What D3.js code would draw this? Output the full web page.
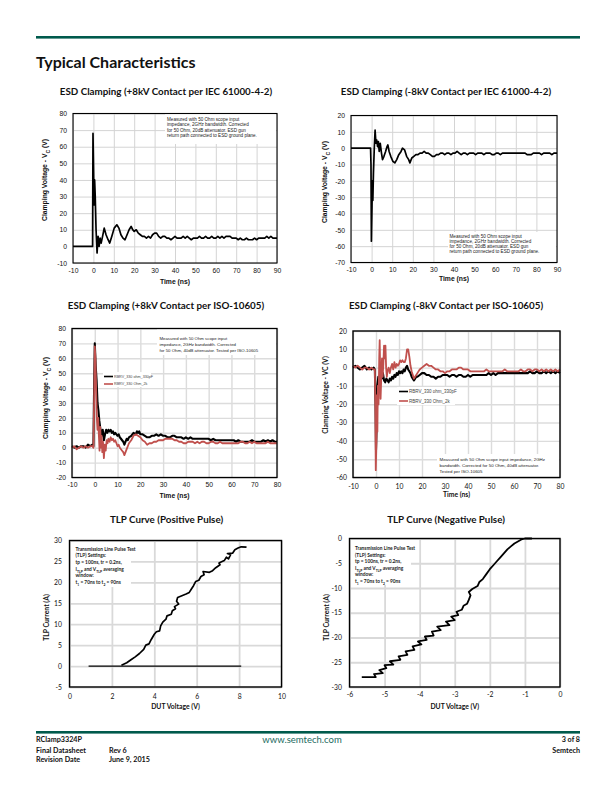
<!DOCTYPE html>
<html>
<head>
<meta charset="utf-8">
<script src="https://cdn.jsdelivr.net/npm/d3@7"></script>
<style>
  body { margin: 0; background: #fff; }
  svg { display: block; }
</style>
</head>
<body>
<svg id="page" width="612" height="792"></svg>
<script>
/* ---- data ---- */

/* ESD clamping, +8kV contact per IEC 61000-4-2 : [time ns, volts] */
const iecPos = [[-10,0],[-0.4,0],[-0.2,68],[0.1,45],[0.3,25],[0.6,40],[0.9,30],[1.3,10],[1.8,-4],[2.3,6],[2.8,0],[3.3,5],[3.8,2],[4.5,6],[5.3,11],[6.2,7],[7.2,4],[8,2],[9,6],[10.2,11],[11.5,13],[12.5,11],[13.5,7],[14.5,5],[15.5,4],[16.5,7],[17.5,10],[18.5,12],[19.3,10],[20,9],[21,10],[22,8],[23,7],[24,6],[25,6],[26,5],[27,6],[28,5],[29,7],[30,8],[31,8],[32,6],[33,5],[34,6],[35,6],[36,5],[37,5],[38,4],[39,5],[40,6],[41,5],[42,5],[43,5],[44,6],[45,5],[46,6],[47,5],[48,4],[49,5],[50,5],[51,5],[52,6],[53,5],[54,5],[55,6],[56,5],[57,5],[58,6],[59,5],[60,5],[61,6],[62,5],[63,6],[64,5],[65,6],[66,6],[67,6],[68,5],[69,5],[70,5],[71,4],[72,5],[73,4],[74,4],[75,5],[76,4],[77,4],[78,4],[79,5],[80,4],[81,5],[82,5],[83,5],[84,5],[85,6],[86,5],[87,6],[88,5],[89,5],[90,5]]

/* ESD clamping, -8kV contact per IEC 61000-4-2 */
const iecNeg = [[-10,0],[-0.5,0],[-0.3,-10],[-0.1,-57],[0.2,-35],[0.4,-20],[0.6,-32],[0.9,-15],[1.3,0],[1.7,11],[2.1,3],[2.5,5],[2.9,1],[3.3,4],[3.7,-2],[4.2,3],[4.8,-3],[5.3,-7],[6,-5],[6.8,-2],[7.5,1],[7.9,2],[8.5,-2],[9.3,-5],[10.3,-8],[11.3,-9],[12.2,-7],[13.2,-4],[14.3,-2],[15,0],[16,-1],[17,-5],[18,-7],[18.6,-9],[19.5,-6],[20.5,-5],[21.5,-4],[22.5,-4],[23.5,-3],[24.5,-3],[25.5,-2],[26.5,-3],[27.5,-3],[28.5,-4],[29.5,-5],[30.5,-5],[31.5,-4],[32.5,-4],[33.5,-3],[34.5,-3],[35.5,-4],[36.5,-3],[37.5,-3],[38.5,-4],[39.5,-3],[40.5,-3],[41.5,-2],[42.5,-3],[43.5,-4],[44.5,-3],[45.5,-3],[46.5,-4],[47.5,-3],[48.5,-3],[49.5,-3],[50.5,-4],[51.5,-3],[52.5,-3],[53.5,-3],[54.5,-4],[55.5,-3],[56.5,-3],[57.5,-3],[58.5,-4],[59.5,-4],[60.5,-3],[61.5,-3],[62.5,-4],[63.5,-3],[64.5,-3],[65.5,-3],[66.5,-3],[67.5,-3],[68.5,-3],[69.5,-3],[70.5,-3],[71.5,-3],[72.5,-3],[73.5,-3],[74.5,-3],[75.5,-4],[76.5,-4],[77.5,-4],[78.5,-3],[79.5,-3],[80.5,-3],[81.5,-3],[82.5,-4],[83.5,-3],[84.5,-3],[85.5,-3],[86.5,-3],[87.5,-4],[88.5,-3],[89.5,-3],[90,-3]]

/* ESD clamping, +8kV contact per ISO-10605, two networks */
const isoPos330pF = [[-10,1],[-9,0],[-8,1],[-7,0],[-6,1],[-5,1],[-4,0],[-3,2],[-2,1],[-1,2],[-0.6,1],[-0.3,40],[0,70],[0.4,55],[0.8,45],[1.2,30],[1.6,25],[2,18],[2.5,12],[3,8],[3.5,12],[4,5],[4.5,9],[5,12],[5.5,10],[6,12],[6.5,11],[7,12],[7.5,10],[8,11],[8.5,9],[9,10],[9.5,9],[10,8],[10.5,9],[11,7],[11.5,6],[12,5],[12.5,4],[13,2],[13.5,4],[14,6],[14.5,5],[15,7],[16,8],[17,10],[18,9],[18.5,11],[19,10],[19.5,11],[20,9],[21,9],[22,8],[23,7],[24,7],[25,8],[26,8],[27,9],[28,8],[29,9],[30,8],[31,8],[32,7],[33,7],[34,8],[35,8],[36,7],[37,7],[38,7],[39,6],[40,7],[41,6],[42,7],[43,6],[44,6],[45,6],[46,6],[47,6],[48,6],[49,6],[50,6],[51,5],[52,6],[53,5],[54,5],[55,5],[56,5],[57,5],[58,5],[59,5],[60,5],[61,5],[62,4],[63,5],[64,4],[65,4],[66,4],[67,4],[68,4],[69,5],[70,4],[71,4],[72,4],[73,4],[74,5],[75,4],[76,5],[77,4],[78,5],[79,4],[80,4]]
const isoPos2k = [[-10,0],[-9,1],[-8,-1],[-7,0],[-6,1],[-5,0],[-4,1],[-3,0],[-2,1],[-1,1],[-0.6,0],[-0.3,30],[0,68],[0.3,60],[0.6,40],[0.9,20],[1.2,12],[1.5,20],[1.8,8],[2.1,-2],[2.4,14],[2.7,0],[3,8],[3.3,-3],[3.6,4],[4,-7],[4.4,2],[4.8,-2],[5.2,5],[5.6,3],[6,6],[6.5,4],[7,7],[7.5,5],[8,6],[8.5,4],[9,5],[9.5,3],[10,1],[10.5,2],[11,0],[11.5,-1],[12,-2],[12.5,-3],[13,-5],[13.5,-3],[14,-1],[14.5,1],[15,3],[16,5],[17,8],[18,9],[19,8],[20,7],[21,5],[22,4],[23,2],[24,3],[25,3],[26,4],[27,4],[28,5],[29,5],[30,5],[31,6],[32,6],[33,6],[34,6],[35,5],[36,5],[37,4],[38,4],[39,3],[40,3],[41,4],[42,4],[43,4],[44,3],[45,4],[46,3],[47,4],[48,4],[49,3],[50,3],[51,4],[52,4],[53,3],[54,3],[55,4],[56,3],[57,3],[58,3],[59,3],[60,3],[61,3],[62,3],[63,3],[64,4],[65,4],[66,3],[67,3],[68,4],[69,3],[70,4],[71,3],[72,3],[73,3],[74,3],[75,3],[76,4],[77,3],[78,3],[79,3],[80,3]]

/* ESD clamping, -8kV contact per ISO-10605 */
const isoNeg330pF = [[-10,0],[-9,1],[-8,0],[-7,-1],[-6,0],[-5,1],[-4,-1],[-3,0],[-2,-1],[-1,0],[-0.5,-1],[-0.2,-20],[0,-45],[0.3,-30],[0.6,-10],[1,-5],[1.5,-8],[2,-4],[2.5,-6],[3,-3],[3.5,-7],[4,-8],[4.5,-6],[5,-7],[5.5,-8],[6,-6],[6.5,-7],[7,-5],[7.5,-6],[8,-4],[8.5,-5],[9,-3],[9.5,-4],[10,-2],[10.5,-3],[11,-2],[11.5,-3],[12,-1],[12.5,-2],[13,0],[13.5,1],[14,-1],[14.5,-2],[15,-3],[15.5,-5],[16,-6],[16.5,-7],[17,-6],[17.5,-5],[18,-5],[19,-4],[20,-3],[21,-3],[22,-4],[23,-4],[24,-5],[25,-5],[26,-6],[27,-5],[28,-5],[29,-4],[30,-4],[31,-4],[32,-5],[33,-4],[34,-4],[35,-5],[36,-4],[37,-4],[38,-5],[39,-5],[40,-4],[41,-5],[42,-4],[43,-4],[44,-4],[45,-4],[46,-4],[47,-4],[48,-4],[49,-3],[50,-4],[51,-3],[52,-4],[53,-3],[54,-3],[55,-3],[56,-3],[57,-3],[58,-3],[59,-3],[60,-3],[61,-3],[62,-3],[63,-3],[64,-3],[65,-3],[66,-3],[67,-2],[68,-3],[69,-3],[70,-2],[71,-3],[72,-3],[73,-2],[74,-3],[75,-2],[76,-3],[77,-2],[78,-3],[79,-2],[80,-3]]
const isoNeg2k = [[-10,1],[-9,0],[-8,1],[-7,0],[-6,-1],[-5,0],[-4,0],[-3,-1],[-2,0],[-1,-1],[-0.5,-1],[-0.3,-20],[-0.1,-56],[0.2,-40],[0.4,-15],[0.6,-35],[0.8,-10],[1.1,-20],[1.4,5],[1.6,15],[1.8,0],[2,-17],[2.3,-5],[2.6,5],[2.9,-5],[3.2,2],[3.5,12],[3.8,5],[4.1,12],[4.4,0],[4.7,-5],[5,-2],[5.5,0],[6,-3],[6.5,0],[7,2],[7.5,-1],[8,3],[8.5,0],[9,2],[9.5,1],[10,2],[10.5,4],[11,3],[11.5,4],[12,3],[12.5,3],[13,5],[13.5,10],[14,10],[14.5,6],[15,1],[15.5,-2],[16,-4],[16.5,-6],[17,-5],[17.5,-4],[18,-3],[19,-1],[20,0],[21,1],[22,2],[23,1],[24,1],[25,0],[26,-1],[27,-1],[28,-2],[29,-2],[30,-3],[31,-2],[32,-2],[33,-1],[34,-1],[35,-1],[36,0],[37,0],[38,-1],[39,-1],[40,-1],[41,-2],[42,-2],[43,-2],[44,-2],[45,-2],[46,-2],[47,-2],[48,-1],[49,-2],[50,-2],[51,-2],[52,-2],[53,-2],[54,-2],[55,-2],[56,-1],[57,-2],[58,-2],[59,-2],[60,-2],[61,-2],[62,-2],[63,-1],[64,-2],[65,-2],[66,-1],[67,-1],[68,-2],[69,-1],[70,-1],[71,-2],[72,-1],[73,-2],[74,-1],[75,-2],[76,-1],[77,-2],[78,-1],[79,-2],[80,-1]]

/* TLP curves : [DUT volts, TLP amps] */
const tlpPosBase = [[0.9,0],[8.1,0]]
const tlpPos = [[2.45,0.2],[2.7,0.8],[2.9,1.5],[3.1,2.2],[3.3,3],[3.5,4],[3.6,5],[3.75,5.3],[3.85,6.3],[4.0,7.6],[4.1,8.2],[4.25,8.4],[4.3,9.6],[4.4,10.5],[4.55,11.2],[4.6,12],[4.8,12.4],[4.85,13.2],[5.0,13.7],[4.95,14.2],[5.15,14.8],[5.05,15.5],[5.1,16.4],[5.3,16.8],[5.5,17.2],[5.65,17.6],[5.75,18.4],[5.85,19.2],[5.95,20.2],[6.1,20.5],[6.2,21.4],[6.35,21.8],[6.3,22.6],[6.6,22.4],[6.75,22.8],[6.9,23.5],[7.1,24.2],[7.05,24.6],[7.3,25.2],[7.4,26],[7.5,25.6],[7.6,26.6],[7.45,26.9],[7.7,27],[7.8,27.8],[7.95,28.2],[8.1,28.5],[8.35,28.4]]
const tlpNeg = [[-5.65,-28],[-5.25,-28],[-5.3,-27.4],[-5.05,-27.2],[-5.15,-26.6],[-4.95,-26.2],[-5.0,-25.6],[-4.75,-25.5],[-4.85,-24.8],[-4.55,-24.5],[-4.6,-23.8],[-4.35,-23.5],[-4.4,-22.8],[-4.15,-22.5],[-4.2,-21.8],[-3.95,-21.4],[-4.05,-20.8],[-3.8,-20.5],[-3.85,-19.8],[-3.6,-19.6],[-3.65,-18.8],[-3.4,-18.5],[-3.5,-17.8],[-3.15,-17.5],[-3.25,-16.8],[-3.0,-16.5],[-3.1,-15.8],[-2.9,-15.5],[-2.95,-14.8],[-2.8,-14.4],[-2.75,-13.6],[-2.65,-13.2],[-2.6,-12.4],[-2.55,-11.5],[-2.6,-10.8],[-2.5,-10.2],[-2.35,-9.6],[-2.3,-8.8],[-2.2,-8.2],[-2.1,-7.2],[-2.0,-6.2],[-1.9,-5.4],[-1.8,-4.6],[-1.7,-3.8],[-1.6,-3.0],[-1.5,-2.2],[-1.4,-1.6],[-1.3,-1.0],[-1.2,-0.6],[-1.1,-0.2],[-1.0,0],[-0.8,0]]

/* tick values */
const ticksTime90 = [-10,0,10,20,30,40,50,60,70,80,90]
const ticksTime80 = [-10,0,10,20,30,40,50,60,70,80]
const ticksIecPosV = [-10,0,10,20,30,40,50,60,70,80]
const ticksIecNegV = [-70,-60,-50,-40,-30,-20,-10,0,10,20]
const ticksIsoPosV = [-20,-10,0,10,20,30,40,50,60,70,80]
const ticksIsoNegV = [-60,-50,-40,-30,-20,-10,0,10,20]
const ticksTlpPosV = [0,2,4,6,8,10]
const ticksTlpPosI = [-5,0,5,10,15,20,25,30]
const ticksTlpNegV = [-6,-5,-4,-3,-2,-1,0]
const ticksTlpNegI = [-30,-25,-20,-15,-10,-5,0]

/* texts */
const legendNames = ["RBRV_330 ohm_330pF", "RBRV_330 Ohm_2k"]
const noteIec = ["Measured with 50 Ohm scope input", "impedance, 2GHz bandwidth. Corrected", "for 50 Ohm, 20dB attenuator. ESD gun", "return path connected to ESD ground plane."]
const noteIsoPos = ["Measured with 50 Ohm scope input", "impedance, 2GHz bandwidth. Corrected", "for 50 Ohm, 40dB attenuator. Tested per ISO-10605"]
const noteIsoNeg = ["Measured with 50 Ohm scope input impedance, 2GHz", "bandwidth. Corrected for 50 Ohm, 40dB attenuator.", "Tested per ISO-10605"]

/* ---- page ---- */
const teal = "#005a4c",
      red = "#c0504d",
      arial = "'Liberation Sans', Arial, sans-serif",
      lato = "Lato, 'Open Sans', sans-serif"

const svg = d3.select("#page")

/* header rule and heading */
svg.append("rect").attr("x", 36).attr("y", 36).attr("width", 544).attr("height", 2.6).attr("fill", teal)
svg.append("text").attr("x", 36).attr("y", 68)
  .attr("font-family", lato).attr("font-weight", "bold").attr("font-size", 16).attr("fill", "#111")
  .text("Typical Characteristics")

/* draws one chart box with grid, traces, labels */
function drawPanel (p) {
  const x = d3.scaleLinear().domain(p.xDomain).range([p.left, p.right]),
        y = d3.scaleLinear().domain(p.yDomain).range([p.bottom, p.top]),
        h = p.bottom - p.top,
        w = p.right - p.left
  const g = svg.append("g")

  /* grid */
  g.append("g").attr("transform", "translate(0," + p.bottom + ")")
    .call(d3.axisBottom(x).tickValues(p.xTicks).tickSize(-h).tickFormat(""))
    .call(a => a.select(".domain").remove())
    .selectAll("line").attr("stroke", p.grid).attr("stroke-width", p.gridWidth)
  g.append("g").attr("transform", "translate(" + p.left + ",0)")
    .call(d3.axisLeft(y).tickValues(p.yTicks).tickSize(-w).tickFormat(""))
    .call(a => a.select(".domain").remove())
    .selectAll("line").attr("stroke", p.grid).attr("stroke-width", p.gridWidth)

  /* white boxes behind notes */
  ;(p.boxes || []).forEach(b => {
    g.append("rect").attr("x", b[0]).attr("y", b[1]).attr("width", b[2]).attr("height", b[3]).attr("fill", "#fff")
  })

  /* traces */
  const line = d3.line().x(d => x(d[0])).y(d => y(d[1])).curve(d3.curveLinear)
  p.series.forEach(s => {
    g.append("path").datum(s.data)
      .attr("d", line)
      .attr("fill", "none")
      .attr("stroke", s.color)
      .attr("stroke-width", s.width)
      .attr("stroke-linejoin", "round")
  })

  /* border */
  g.append("rect").attr("x", p.left).attr("y", p.top).attr("width", w).attr("height", h)
    .attr("fill", "none").attr("stroke", "#000").attr("stroke-width", p.border)

  /* tick labels */
  const xa = g.append("g").attr("transform", "translate(0," + p.bottom + ")")
    .call(d3.axisBottom(x).tickValues(p.xTicks).tickSize(0).tickFormat(d => String(d)))
  xa.select(".domain").remove()
  xa.selectAll("text").attr("y", p.xLabelDy).attr("dy", null)
    .attr("font-family", p.tickFont).attr("font-size", p.tickSize).attr("fill", "#111")

  const ya = g.append("g").attr("transform", "translate(" + p.left + ",0)")
    .call(d3.axisLeft(y).tickValues(p.yTicks).tickSize(0).tickPadding(p.yLabelPad).tickFormat(d => String(d)))
  ya.select(".domain").remove()
  ya.selectAll("text").attr("font-family", p.tickFont).attr("font-size", p.tickSize).attr("fill", "#111")

  /* chart title */
  g.append("text").attr("x", p.titleX).attr("y", p.titleY).attr("text-anchor", "middle")
    .attr("font-family", lato).attr("font-weight", "bold").attr("font-size", 9.8).attr("fill", "#111")
    .text(p.title)

  /* axis titles */
  g.append("text").attr("x", (p.left + p.right) / 2).attr("y", p.xTitleY).attr("text-anchor", "middle")
    .attr("font-family", p.axisFont).attr("font-weight", "bold").attr("font-size", 6.8).attr("fill", "#111")
    .text(p.xTitle)

  const yt = g.append("text")
    .attr("transform", "translate(" + p.yTitleX + "," + p.yTitleMid + ") rotate(-90)")
    .attr("text-anchor", "middle")
    .attr("font-family", p.axisFont).attr("font-weight", "bold").attr("font-size", 6.8).attr("fill", "#111")
  p.yTitle.forEach(part => {
    const t = yt.append("tspan").text(part.t)
    if (part.sub) t.attr("baseline-shift", "sub").attr("font-size", 5)
  })

  /* note */
  if (p.note) {
    p.note.lines.forEach((l, i) => {
      const t = g.append("text").attr("x", p.note.x).attr("y", p.note.y + i * p.note.step)
        .attr("font-family", p.note.font).attr("font-size", p.note.size).attr("fill", "#222")
        .attr("font-weight", p.note.bold ? "bold" : "normal")
      l.forEach(part => {
        const s = t.append("tspan").text(part.t)
        if (part.sub) s.attr("baseline-shift", "sub").attr("font-size", p.note.size * 0.7)
      })
    })
  }

  /* legend */
  if (p.legend) {
    const L = p.legend
    p.series.forEach((s, i) => {
      g.append("line").attr("x1", L.x).attr("x2", L.x + L.len)
        .attr("y1", L.y + i * L.step).attr("y2", L.y + i * L.step)
        .attr("stroke", s.color).attr("stroke-width", 1.6)
      g.append("text").attr("x", L.x + L.len + 1).attr("y", L.y + i * L.step + L.size * 0.35)
        .attr("font-family", arial).attr("font-size", L.size).attr("fill", "#444")
        .text(legendNames[i])
    })
  }
}

const toLines = arr => arr.map(s => [{ t: s }])

drawPanel({
  title: "ESD Clamping (+8kV Contact per IEC 61000-4-2)", titleX: 166, titleY: 95,
  left: 73, right: 277, top: 113.5, bottom: 263,
  xDomain: [-10, 90], yDomain: [-10, 80], xTicks: ticksTime90, yTicks: ticksIecPosV,
  grid: "#d4d4d4", gridWidth: 1, border: 1.1,
  tickFont: arial, tickSize: 6.8, xLabelDy: 9.8, yLabelPad: 6,
  axisFont: arial, xTitle: "Time (ns)", xTitleY: 283.5, yTitleX: 47, yTitleMid: 180,
  yTitle: [{ t: "Clamping Voltage - V" }, { t: "C", sub: true }, { t: " (V)" }],
  boxes: [[165, 114, 111, 30]],
  series: [{ data: iecPos, color: "#000", width: 1.7 }],
  note: { x: 167, y: 121.2, step: 5.2, size: 4.6, font: arial, lines: toLines(noteIec) }
})

drawPanel({
  title: "ESD Clamping (-8kV Contact per IEC 61000-4-2)", titleX: 446, titleY: 95,
  left: 351, right: 557, top: 115.5, bottom: 262.5,
  xDomain: [-10, 90], yDomain: [-70, 20], xTicks: ticksTime90, yTicks: ticksIecNegV,
  grid: "#d4d4d4", gridWidth: 1, border: 1.1,
  tickFont: arial, tickSize: 6.8, xLabelDy: 9.5, yLabelPad: 6,
  axisFont: arial, xTitle: "Time (ns)", xTitleY: 281, yTitleX: 327, yTitleMid: 182,
  yTitle: [{ t: "Clamping Voltage - V" }, { t: "C", sub: true }, { t: " (V)" }],
  boxes: [[448, 232, 108, 30]],
  series: [{ data: iecNeg, color: "#000", width: 1.7 }],
  note: { x: 449.5, y: 237.5, step: 5.1, size: 4.6, font: arial, lines: toLines(noteIec) }
})

drawPanel({
  title: "ESD Clamping (+8kV Contact per ISO-10605)", titleX: 166, titleY: 309,
  left: 72, right: 277, top: 328.5, bottom: 477.5,
  xDomain: [-10, 80], yDomain: [-20, 80], xTicks: ticksTime80, yTicks: ticksIsoPosV,
  grid: "#dcdcdc", gridWidth: 1.4, border: 1.3,
  tickFont: arial, tickSize: 6.8, xLabelDy: 9.5, yLabelPad: 6,
  axisFont: arial, xTitle: "Time (ns)", xTitleY: 497.5, yTitleX: 48, yTitleMid: 398,
  yTitle: [{ t: "Clamping Voltage - V" }, { t: "C", sub: true }, { t: " (V)" }],
  boxes: [[157, 329, 119, 26], [103, 372, 48, 15]],
  series: [{ data: isoPos330pF, color: "#000", width: 2.1 }, { data: isoPos2k, color: red, width: 1.8 }],
  note: { x: 159.5, y: 339.5, step: 6, size: 4.3, font: arial, lines: toLines(noteIsoPos) },
  legend: { x: 104, y: 376.5, len: 9, step: 7.5, size: 3.7 }
})

drawPanel({
  title: "ESD Clamping (-8kV Contact per ISO-10605)", titleX: 446, titleY: 309,
  left: 353, right: 560, top: 331, bottom: 477.5,
  xDomain: [-10, 80], yDomain: [-60, 20], xTicks: ticksTime80, yTicks: ticksIsoNegV,
  grid: "#dcdcdc", gridWidth: 1.4, border: 1.4,
  tickFont: lato, tickSize: 6.8, xLabelDy: 11.5, yLabelPad: 6,
  axisFont: lato, xTitle: "Time (ns)", xTitleY: 497, yTitleX: 328, yTitleMid: 395,
  yTitle: [{ t: "Clamping Voltage - VC (V)" }],
  boxes: [[437, 454, 122, 23], [397, 387, 58, 18]],
  series: [{ data: isoNeg330pF, color: "#000", width: 2.1 }, { data: isoNeg2k, color: red, width: 1.8 }],
  note: { x: 439.5, y: 461, step: 5.8, size: 4.4, font: arial, lines: toLines(noteIsoNeg) },
  legend: { x: 399, y: 391.5, len: 9, step: 9.5, size: 4.5 }
})

const tlpNote = [
  [{ t: "Transmission Line Pulse Test" }],
  [{ t: "(TLP) Settings:" }],
  [{ t: "tp = 100ns, tr = 0.2ns," }],
  [{ t: "I" }, { t: "TLP", sub: true }, { t: " and V" }, { t: "TLP", sub: true }, { t: " averaging" }],
  [{ t: "window:" }],
  [{ t: "t" }, { t: "1", sub: true }, { t: " = 70ns to t" }, { t: "2", sub: true }, { t: " = 90ns" }]
]

drawPanel({
  title: "TLP Curve (Positive Pulse)", titleX: 166.5, titleY: 522.5,
  left: 69.5, right: 281.5, top: 540.5, bottom: 687,
  xDomain: [0, 10], yDomain: [-5, 30], xTicks: ticksTlpPosV, yTicks: ticksTlpPosI,
  grid: "#d9d9d9", gridWidth: 1.8, border: 1.4,
  tickFont: lato, tickSize: 6.8, xLabelDy: 12, yLabelPad: 7.5,
  axisFont: lato, xTitle: "DUT Voltage (V)", xTitleY: 709, yTitleX: 49, yTitleMid: 617.5,
  yTitle: [{ t: "TLP Current (A)" }],
  boxes: [[71, 542, 60, 45]],
  series: [{ data: tlpPosBase, color: "#000", width: 1.3 }, { data: tlpPos, color: "#000", width: 1.7 }],
  note: { x: 75.5, y: 550.8, step: 6.6, size: 4.8, font: lato, bold: true, lines: tlpNote }
})

drawPanel({
  title: "TLP Curve (Negative Pulse)", titleX: 446, titleY: 522.5,
  left: 349.5, right: 560, top: 538.5, bottom: 687,
  xDomain: [-6, 0], yDomain: [-30, 0], xTicks: ticksTlpNegV, yTicks: ticksTlpNegI,
  grid: "#d9d9d9", gridWidth: 1.8, border: 1.4,
  tickFont: lato, tickSize: 6.8, xLabelDy: 10, yLabelPad: 7.5,
  axisFont: lato, xTitle: "DUT Voltage (V)", xTitleY: 709, yTitleX: 329, yTitleMid: 617.5,
  yTitle: [{ t: "TLP Current (A)" }],
  boxes: [[351, 540, 60, 45]],
  series: [{ data: tlpNeg, color: "#000", width: 1.8 }],
  note: { x: 355, y: 550, step: 6.6, size: 4.8, font: lato, bold: true, lines: tlpNote }
})

/* footer */
svg.append("rect").attr("x", 36).attr("y", 731).attr("width", 544).attr("height", 2.6).attr("fill", teal)
const foot = svg.append("g").attr("font-family", lato).attr("font-weight", "bold").attr("font-size", 7.2).attr("fill", "#111")
foot.append("text").attr("x", 36).attr("y", 741.5).text("RClamp3324P")
foot.append("text").attr("x", 36).attr("y", 752.5).text("Final Datasheet")
foot.append("text").attr("x", 109).attr("y", 752.5).text("Rev 6")
foot.append("text").attr("x", 36).attr("y", 762).text("Revision Date")
foot.append("text").attr("x", 109).attr("y", 762).text("June 9, 2015")
foot.append("text").attr("x", 580).attr("y", 741.5).attr("text-anchor", "end").text("3 of 8")
foot.append("text").attr("x", 580).attr("y", 752.5).attr("text-anchor", "end").text("Semtech")
svg.append("text").attr("x", 302).attr("y", 743).attr("text-anchor", "middle")
  .attr("font-family", lato).attr("font-size", 9.5).attr("fill", "#1d6b5f")
  .text("www.semtech.com")
</script>
</body>
</html>
